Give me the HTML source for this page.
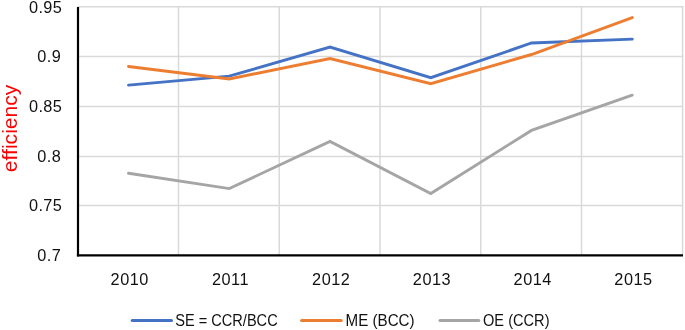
<!DOCTYPE html>
<html><head><meta charset="utf-8"><style>
html,body{margin:0;padding:0;background:#fff;}
svg{display:block;}
text{font-family:"Liberation Sans", Arial, sans-serif;font-size:16.3px;fill:#111;}
</style></head><body>
<svg width="685" height="330" viewBox="0 0 685 330">
<rect width="685" height="330" fill="#fff"/>
<line x1="77.75" y1="6.85" x2="683.35" y2="6.85" stroke="#d9d9d9" stroke-width="1.5"/>
<line x1="77.75" y1="56.60" x2="683.35" y2="56.60" stroke="#d9d9d9" stroke-width="1.5"/>
<line x1="77.75" y1="106.60" x2="683.35" y2="106.60" stroke="#d9d9d9" stroke-width="1.5"/>
<line x1="77.75" y1="156.55" x2="683.35" y2="156.55" stroke="#d9d9d9" stroke-width="1.5"/>
<line x1="77.75" y1="205.50" x2="683.35" y2="205.50" stroke="#d9d9d9" stroke-width="1.5"/>
<line x1="178.50" y1="6.00" x2="178.50" y2="255.30" stroke="#d9d9d9" stroke-width="1.5"/>
<line x1="279.25" y1="6.00" x2="279.25" y2="255.30" stroke="#d9d9d9" stroke-width="1.5"/>
<line x1="380.00" y1="6.00" x2="380.00" y2="255.30" stroke="#d9d9d9" stroke-width="1.5"/>
<line x1="480.75" y1="6.00" x2="480.75" y2="255.30" stroke="#d9d9d9" stroke-width="1.5"/>
<line x1="581.50" y1="6.00" x2="581.50" y2="255.30" stroke="#d9d9d9" stroke-width="1.5"/>
<line x1="682.60" y1="6.00" x2="682.60" y2="255.30" stroke="#d9d9d9" stroke-width="1.5"/>
<line x1="78.00" y1="7.0" x2="78.00" y2="256.40" stroke="#000" stroke-width="2.2"/>
<line x1="76.90" y1="255.40" x2="683.0" y2="255.40" stroke="#000" stroke-width="2.2"/>
<polyline points="128.53,85.10 229.28,76.10 330.02,47.10 430.77,77.70 531.52,43.00 632.27,39.10" fill="none" stroke="#4472c4" stroke-width="2.9" stroke-linejoin="miter" stroke-linecap="round"/>
<polyline points="128.53,66.50 229.28,79.00 330.02,58.50 430.77,83.70 531.52,54.50 632.27,17.60" fill="none" stroke="#ed7d31" stroke-width="2.9" stroke-linejoin="miter" stroke-linecap="round"/>
<polyline points="128.53,173.30 229.28,188.60 330.02,141.40 430.77,193.50 531.52,130.40 632.27,95.20" fill="none" stroke="#a5a5a5" stroke-width="2.9" stroke-linejoin="miter" stroke-linecap="round"/>
<text x="62.4" y="12.50" text-anchor="end" style="letter-spacing:0.45px">0.95</text>
<text x="61.2" y="62.24" text-anchor="end" style="letter-spacing:0.45px">0.9</text>
<text x="62.4" y="111.98" text-anchor="end" style="letter-spacing:0.45px">0.85</text>
<text x="61.2" y="161.72" text-anchor="end" style="letter-spacing:0.45px">0.8</text>
<text x="62.4" y="211.46" text-anchor="end" style="letter-spacing:0.45px">0.75</text>
<text x="61.2" y="261.20" text-anchor="end" style="letter-spacing:0.45px">0.7</text>
<text x="129.72" y="284.6" text-anchor="middle" style="letter-spacing:0.5px">2010</text>
<text x="230.47" y="284.6" text-anchor="middle" style="letter-spacing:0.5px">2011</text>
<text x="331.22" y="284.6" text-anchor="middle" style="letter-spacing:0.5px">2012</text>
<text x="431.97" y="284.6" text-anchor="middle" style="letter-spacing:0.5px">2013</text>
<text x="532.73" y="284.6" text-anchor="middle" style="letter-spacing:0.5px">2014</text>
<text x="633.48" y="284.6" text-anchor="middle" style="letter-spacing:0.5px">2015</text>
<text transform="translate(17.2,128.4) rotate(-90)" text-anchor="middle" textLength="87.5" lengthAdjust="spacingAndGlyphs" style="fill:#ff0000;font-size:20.5px">efficiency</text>
<line x1="132.2" y1="320.5" x2="171.5" y2="320.5" stroke="#4472c4" stroke-width="3" stroke-linecap="round"/><text x="175.2" y="325.6" textLength="102.5" lengthAdjust="spacingAndGlyphs">SE = CCR/BCC</text>
<line x1="301.6" y1="320.5" x2="341.2" y2="320.5" stroke="#ed7d31" stroke-width="3" stroke-linecap="round"/><text x="345.6" y="325.6" textLength="69.0" lengthAdjust="spacingAndGlyphs">ME (BCC)</text>
<line x1="440.0" y1="320.5" x2="478.8" y2="320.5" stroke="#a5a5a5" stroke-width="3" stroke-linecap="round"/><text x="483.0" y="325.6" textLength="66.5" lengthAdjust="spacingAndGlyphs">OE (CCR)</text>
</svg>
</body></html>
